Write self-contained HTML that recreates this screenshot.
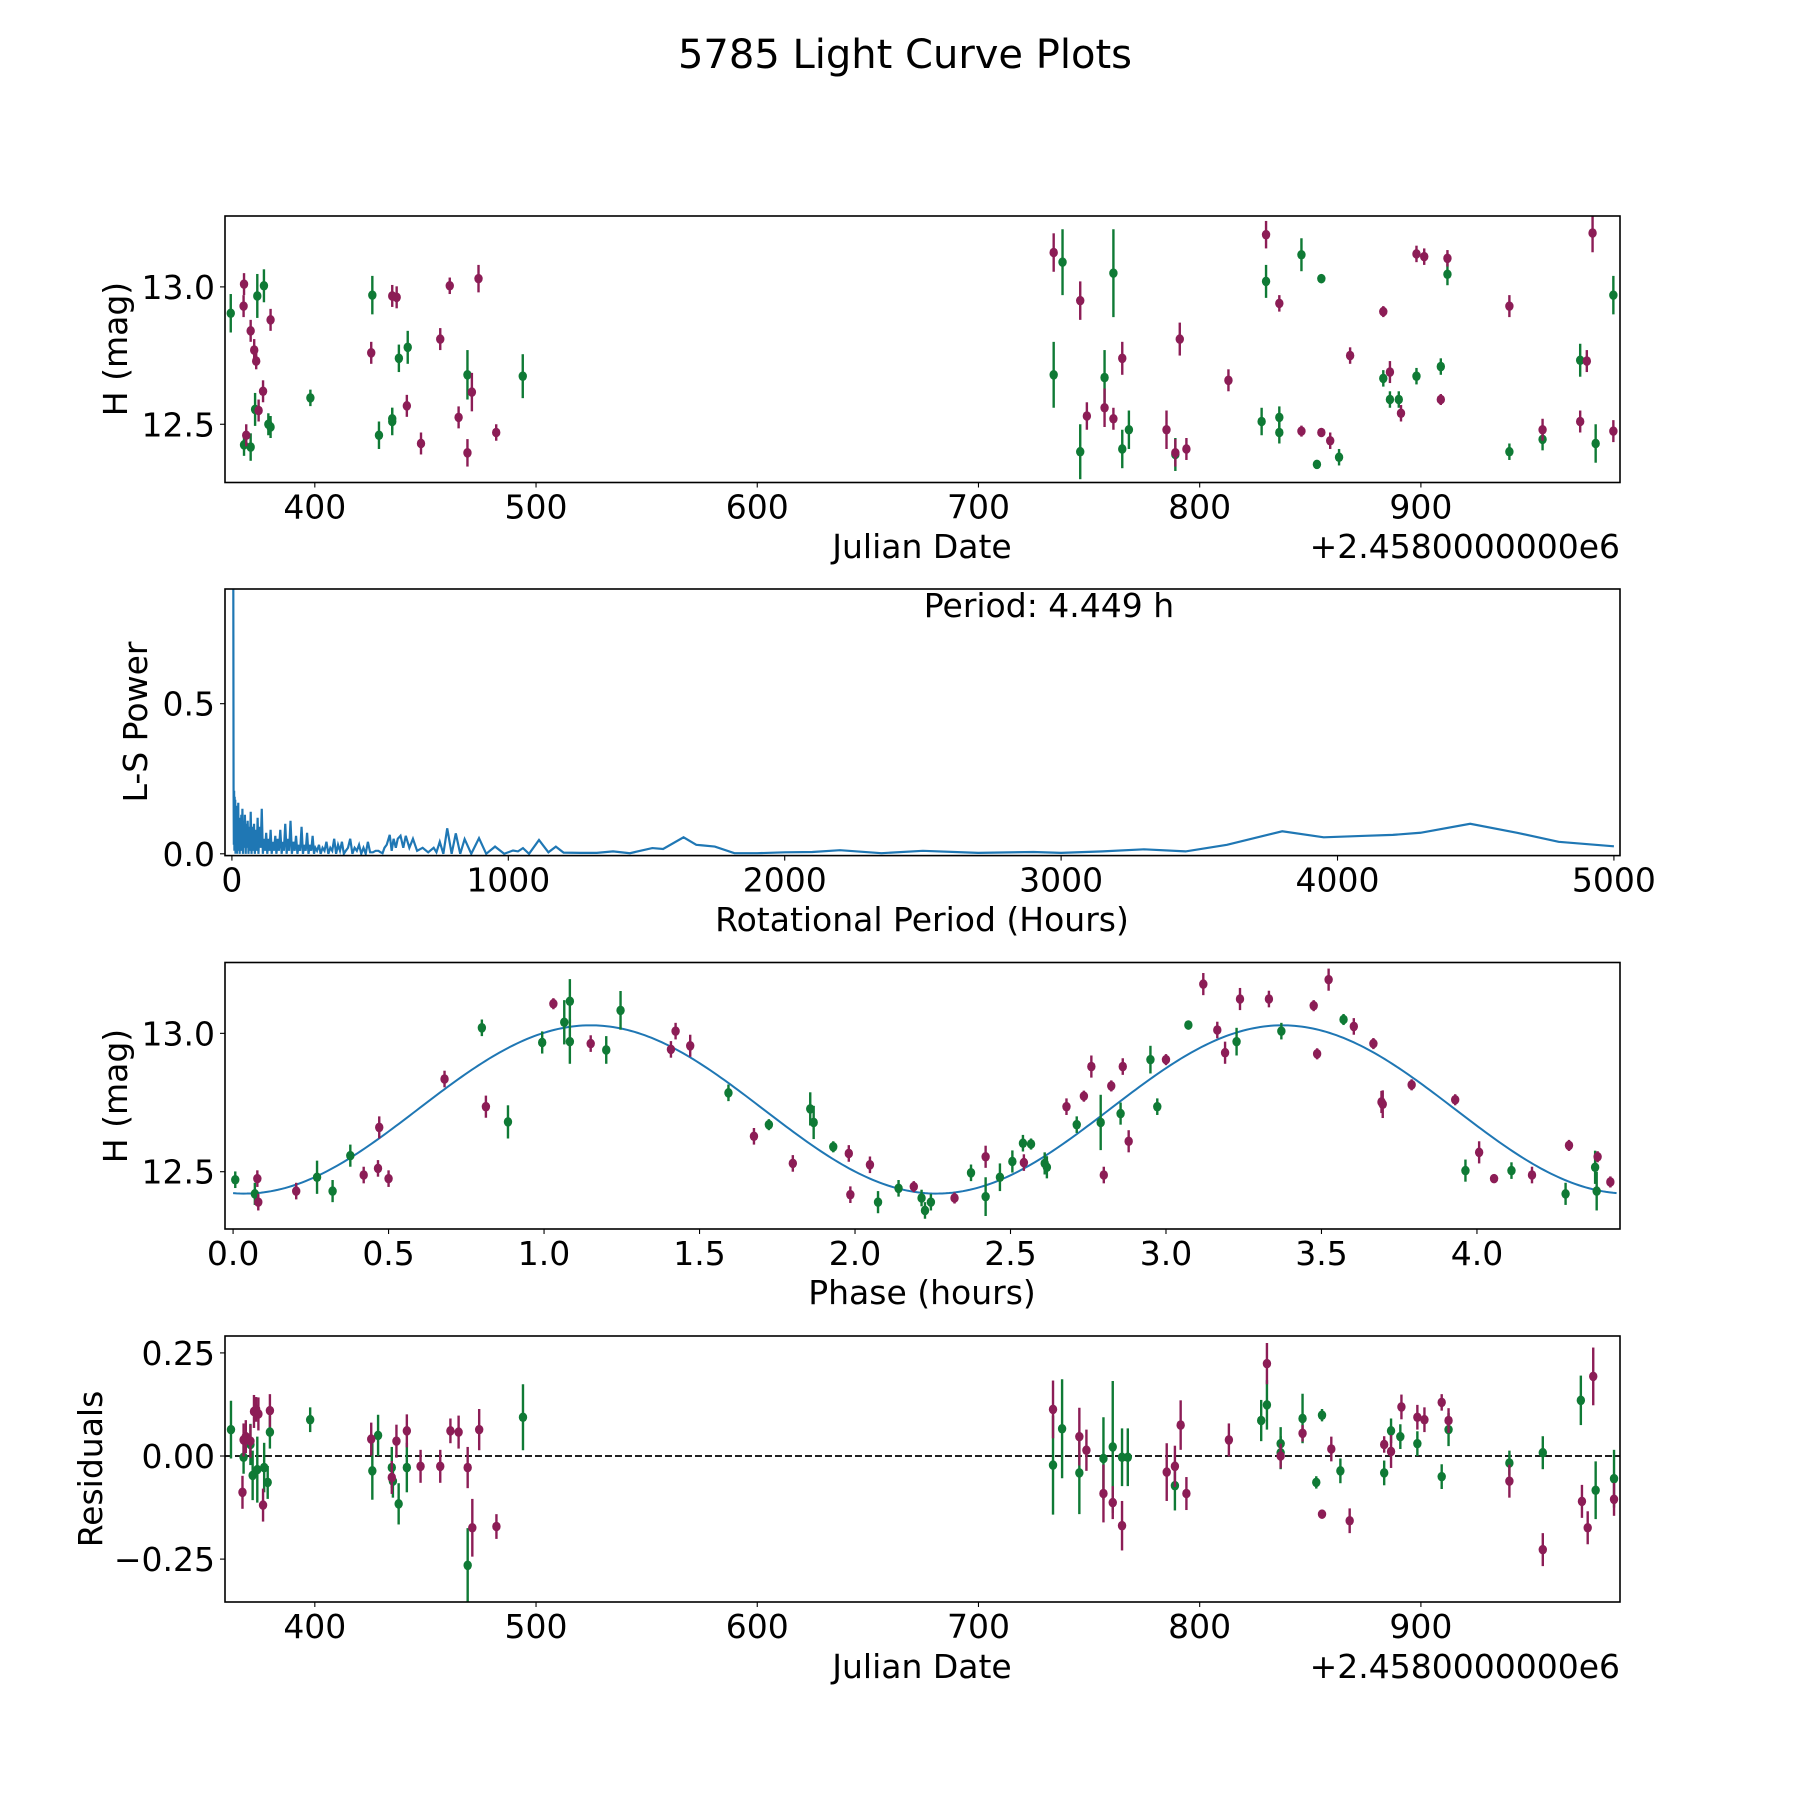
<!DOCTYPE html>
<html><head><meta charset="utf-8"><style>
html,body{margin:0;padding:0;background:#fff;}
svg{display:block;font-family:"DejaVu Sans","Liberation Sans",sans-serif;}
</style></head>
<body>
<svg id="fig" width="1800" height="1800" viewBox="0 0 1800 1800" xmlns="http://www.w3.org/2000/svg">
<rect width="1800" height="1800" fill="#fff"/>
<text x="905" y="68" font-size="40" text-anchor="middle">5785 Light Curve Plots</text>
</svg>
<script>
// ---- Panel 1: light curve data ----
const lcGreenJD = [362,368,371,373,374,377,379,380,398,426,429,435,435,438,442,469,494,734,738,746,757,761,765,768,789,828,830,836,836,846,853,855,863,883,886,890,898,909,912,940,955,972,979,987];
const lcGreenMag = [12.904,12.425,12.417,12.554,12.967,13.004,12.50,12.49,12.596,12.97,12.46,12.51,12.52,12.74,12.78,12.68,12.675,12.68,13.09,12.40,12.67,13.05,12.41,12.48,12.39,12.51,13.02,12.525,12.47,13.117,12.354,13.03,12.38,12.667,12.59,12.59,12.675,12.71,13.046,12.40,12.445,12.733,12.43,12.97];
const lcGreenErr = [0.07,0.04,0.05,0.06,0.08,0.06,0.04,0.04,0.03,0.07,0.05,0.05,0.04,0.05,0.06,0.09,0.08,0.12,0.12,0.10,0.10,0.16,0.07,0.07,0.06,0.05,0.06,0.04,0.04,0.06,0.015,0.015,0.03,0.03,0.03,0.03,0.03,0.03,0.04,0.03,0.04,0.06,0.07,0.07];
const lcMaroonJD = [368,367.8,369,371,372.6,373.5,374.6,376.6,380,425.5,435,437,441.6,448,456.7,461,465,469,471,474,482,734,746,749,757,761,765,785,789,791,794,813,830,836,846,855,859,868,883,886,891,898,901.5,909,912,940,955,972,975,977.6,987];
const lcMaroonMag = [13.01,12.93,12.46,12.84,12.77,12.73,12.55,12.62,12.88,12.76,12.967,12.962,12.567,12.43,12.81,13.004,12.525,12.396,12.617,13.03,12.47,13.125,12.95,12.53,12.56,12.52,12.74,12.48,12.396,12.81,12.41,12.66,13.19,12.94,12.475,12.47,12.44,12.75,12.91,12.69,12.54,13.12,13.11,12.59,13.104,12.93,12.48,12.51,12.73,13.196,12.475];
const lcMaroonErr = [0.04,0.04,0.04,0.04,0.04,0.03,0.04,0.04,0.04,0.04,0.04,0.04,0.04,0.04,0.04,0.03,0.04,0.05,0.07,0.05,0.03,0.07,0.07,0.05,0.07,0.04,0.06,0.07,0.05,0.06,0.04,0.04,0.05,0.03,0.02,0.01,0.03,0.03,0.02,0.04,0.03,0.03,0.03,0.02,0.03,0.04,0.04,0.04,0.04,0.07,0.04];

// ---- Panel 2: Lomb-Scargle periodogram ----
const lsPeriod = [4.4,5,6,7,8,9,10,11,12,13,14,15,17,18,20,21,23,24,26,28,30,32,34,36,38,40,42,45,47,50,52,55,57,60,62,65,68,71,74,77,80,83,86,90,93,96,100,104,108,112,116,120,124,128,132,136,140,144,148,152,157,161,166,170,175,180,184,188,193,198,202,207,212,217,222,227,232,237,242,247,252,257,262,267,272,277,282,287,292,297,302,308,315,321,328,335,342,349,356,363,370,377,384,391,398,405,412,420,428,436,444,452,460,468,476,484,492,500,510,520,530,538,545,552,560,571,578,585,593,600,610,620,629,642,655,670,690,710,730,740,752,765,779,795,810,826,842,866,894,920,952,985,1017,1035,1053,1075,1111,1145,1172,1200,1260,1320,1379,1440,1521,1560,1634,1680,1702,1747,1818,1900,2000,2100,2200,2350,2500,2700,2900,3000,3150,3300,3450,3600,3800,3950,4100,4200,4300,4480,4650,4800,5000];
const lsPower = [1.0,0.95,0.22,0.03,0.21,0.01,0.19,0.02,0.18,0.0,0.16,0.02,0.16,0.0,0.12,0.01,0.17,0.02,0.11,0.0,0.12,0.03,0.13,0.01,0.15,0.0,0.11,0.02,0.13,0.0,0.10,0.02,0.11,0.0,0.09,0.01,0.14,0.0,0.09,0.01,0.10,0.0,0.08,0.01,0.12,0.0,0.09,0.02,0.15,0.0,0.05,0.01,0.07,0.0,0.05,0.01,0.08,0.0,0.04,0.01,0.06,0.0,0.05,0.01,0.08,0.0,0.04,0.01,0.10,0.0,0.05,0.01,0.11,0.0,0.04,0.01,0.06,0.0,0.03,0.01,0.09,0.0,0.03,0.01,0.07,0.0,0.03,0.01,0.06,0.0,0.02,0.01,0.03,0.0,0.02,0.01,0.04,0.0,0.02,0.01,0.05,0.0,0.03,0.01,0.04,0.0,0.01,0.02,0.05,0.0,0.02,0.01,0.03,0.0,0.02,0.0,0.04,0.005,0.005,0.01,0.01,0.005,0.002,0.02,0.03,0.063,0.01,0.05,0.02,0.05,0.06,0.02,0.06,0.02,0.05,0.01,0.02,0.005,0.02,0.005,0.04,0.0,0.085,0.0,0.068,0.0,0.049,0.0,0.052,0.0,0.024,0.0,0.011,0.008,0.019,0.0,0.046,0.005,0.024,0.004,0.003,0.003,0.008,0.002,0.019,0.016,0.055,0.03,0.028,0.024,0.002,0.002,0.005,0.006,0.012,0.002,0.01,0.003,0.006,0.003,0.008,0.015,0.008,0.03,0.075,0.055,0.06,0.063,0.07,0.10,0.07,0.04,0.025];
const lsXTicks = [0,1000,2000,3000,4000,5000];
const lsYTicks = [0.0,0.5];

// ---- Panel 3: phased light curve ----
const phGreenPhase = [0.007,0.07,0.27,0.32,0.377,0.80,0.884,0.994,1.065,1.083,1.083,1.20,1.246,1.593,1.723,1.856,1.867,1.93,2.074,2.14,2.214,2.225,2.244,2.373,2.42,2.466,2.506,2.54,2.566,2.61,2.617,2.713,2.79,2.854,2.95,2.972,3.072,3.227,3.371,3.571,3.963,4.111,4.285,4.38,4.385];
const phGreenMag = [12.471,12.42,12.48,12.43,12.558,13.02,12.68,12.967,13.04,13.116,12.97,12.94,13.083,12.785,12.67,12.727,12.678,12.59,12.39,12.44,12.405,12.36,12.39,12.496,12.41,12.48,12.537,12.603,12.60,12.53,12.516,12.67,12.678,12.71,12.905,12.735,13.03,12.97,13.008,13.05,12.504,12.504,12.42,12.516,12.43];
const phGreenErr = [0.03,0.04,0.06,0.04,0.04,0.03,0.06,0.04,0.08,0.08,0.08,0.05,0.07,0.03,0.02,0.06,0.06,0.02,0.04,0.03,0.03,0.03,0.03,0.03,0.07,0.05,0.04,0.03,0.02,0.04,0.04,0.03,0.1,0.04,0.05,0.03,0.01,0.05,0.03,0.02,0.04,0.03,0.04,0.06,0.07];
const phMaroonPhase = [0.078,0.081,0.203,0.42,0.466,0.47,0.50,0.68,0.813,1.03,1.15,1.408,1.423,1.47,1.675,1.80,1.98,1.985,2.048,2.189,2.32,2.42,2.543,2.68,2.736,2.76,2.80,2.824,2.861,2.88,3.0,3.12,3.165,3.19,3.238,3.331,3.475,3.486,3.523,3.604,3.667,3.693,3.697,3.79,3.93,4.007,4.055,4.177,4.296,4.388,4.429];
const phMaroonMag = [12.475,12.39,12.43,12.488,12.512,12.66,12.475,12.835,12.735,13.107,12.963,12.942,13.008,12.955,12.628,12.53,12.566,12.417,12.525,12.446,12.405,12.554,12.533,12.735,12.773,12.88,12.488,12.81,12.88,12.61,12.905,13.178,13.012,12.93,13.124,13.124,13.10,12.926,13.194,13.025,12.963,12.752,12.744,12.814,12.76,12.57,12.475,12.488,12.595,12.554,12.463];
const phMaroonErr = [0.03,0.03,0.03,0.03,0.03,0.04,0.03,0.03,0.04,0.02,0.03,0.03,0.03,0.04,0.03,0.03,0.03,0.03,0.03,0.02,0.02,0.04,0.03,0.03,0.02,0.04,0.03,0.02,0.03,0.04,0.02,0.04,0.03,0.04,0.04,0.03,0.02,0.02,0.04,0.03,0.02,0.04,0.05,0.02,0.02,0.04,0.01,0.03,0.02,0.02,0.02];
const fitMean = [12.725];
const fitAmp = [0.304];
const fitPeriod = [2.2245];
const fitPeakPhase = [1.15];
const phXTicks = [0.0,0.5,1.0,1.5,2.0,2.5,3.0,3.5,4.0];

// ---- Panel 4: residuals ----
const resGreenJD = [362.1,367.8,370.9,371.9,374,377.1,378.7,379.7,397.9,426,428.6,434.8,435.3,437.9,441.6,469.1,494.1,733.7,737.8,745.6,756.5,760.7,764.9,767.5,788.8,827.8,830.4,836.6,836.6,846.5,852.7,855.3,863.6,883.4,886.5,890.7,898.4,909.4,912.5,940,955.1,972.3,979,987.3];
const resGreenVal = [0.064,-0.003,0.028,-0.047,-0.033,-0.028,-0.064,0.058,0.088,-0.036,0.05,-0.028,-0.061,-0.116,-0.028,-0.265,0.094,-0.022,0.066,-0.041,-0.006,0.022,-0.003,-0.003,-0.072,0.086,0.124,0.03,0.008,0.091,-0.064,0.099,-0.036,-0.041,0.061,0.047,0.03,-0.05,0.064,-0.017,0.008,0.135,-0.083,-0.055];
const resMaroonJD = [367.3,367.8,368.8,370.9,372.5,373.5,374.5,376.6,379.7,425.5,434.8,436.9,441.6,447.8,456.7,461.3,465,469.1,471.2,474.3,482.1,733.7,745.6,748.8,756.5,760.7,764.9,785.1,788.8,791.4,794,813.2,830.4,836.6,846.5,855.3,859.5,867.8,883.4,886.5,891.2,898.4,901.6,909.4,912.5,940,955.1,972.8,975.4,977.9,987.3];
const resMaroonVal = [-0.088,0.039,0.047,0.036,0.108,0.113,0.102,-0.119,0.11,0.041,-0.052,0.036,0.061,-0.025,-0.025,0.061,0.058,-0.028,-0.174,0.064,-0.171,0.113,0.047,0.014,-0.091,-0.113,-0.169,-0.039,-0.025,0.075,-0.091,0.039,0.224,0,0.055,-0.141,0.017,-0.157,0.028,0.011,0.119,0.094,0.088,0.13,0.086,-0.061,-0.227,-0.11,-0.174,0.193,-0.105];
const jdTicks = [400,500,600,700,800,900];

const NS = 'http://www.w3.org/2000/svg';
const svg = document.getElementById('fig');
const GREEN = '#0f7a35', MAROON = '#8c1d56', BLUE = '#1f77b4';
const L = 225, R = 1620;
const FS = 33;

function mk(tag, attrs, parent) {
  const e = document.createElementNS(NS, tag);
  for (const k in attrs) e.setAttribute(k, attrs[k]);
  (parent || svg).appendChild(e);
  return e;
}
function makeAxes(name, top, bottom, xlim, ylim) {
  const g = mk('g', {});
  
  
  const ax = {
    g, top, bottom,
    x: v => L + (v - xlim[0]) / (xlim[1] - xlim[0]) * (R - L),
    y: v => bottom - (v - ylim[0]) / (ylim[1] - ylim[0]) * (bottom - top)
  };
  const cp = mk('clipPath', {id: name + '-clip'}, g);
  mk('rect', {x: L, y: top, width: R - L, height: bottom - top}, cp);
  ax.plot = mk('g', {'clip-path': 'url(#' + name + '-clip)'}, g);
  return ax;
}
function frame(ax) {
  const f = mk('rect', {x: L, y: ax.top, width: R - L, height: ax.bottom - ax.top, fill: 'none', stroke: '#000', 'stroke-width': 1.6}, ax.g);
  
  
}
function xTicks(ax, ticks, fmt) {
  ticks.forEach(t => {
    const px = ax.x(t);
    mk('line', {x1: px, x2: px, y1: ax.bottom, y2: ax.bottom + 5, stroke: '#000', 'stroke-width': 1.1}, ax.g);
    const tx = mk('text', {x: px, y: ax.bottom + 36, 'font-size': FS, 'text-anchor': 'middle'}, ax.g);
    
    
    tx.textContent = fmt(t);
  });
}
function yTicks(ax, ticks, fmt) {
  ticks.forEach(t => {
    const py = ax.y(t);
    mk('line', {x1: L - 5, x2: L, y1: py, y2: py, stroke: '#000', 'stroke-width': 1.1}, ax.g);
    const tx = mk('text', {x: L - 10, y: py + 12, 'font-size': FS, 'text-anchor': 'end'}, ax.g);
    
    
    tx.textContent = fmt(t);
  });
}
function label(ax, text, x, y, rot, name, anchor) {
  const t = mk('text', {x, y, 'font-size': FS, 'text-anchor': anchor || 'middle'}, ax.g);
  if (rot) t.setAttribute('transform', 'rotate(-90 ' + x + ' ' + y + ')');
  
  
  t.textContent = text;
}
function errPoints(ax, xs, ys, errs, color, name) {
  const g = mk('g', {}, ax.plot);
  
  
  xs.forEach((xv, i) => {
    const px = ax.x(xv), py = ax.y(ys[i]);
    if (errs) {
      const e = errs[i];
      const ln = mk('line', {x1: px, x2: px, y1: ax.y(ys[i] + e), y2: ax.y(ys[i] - e), stroke: color, 'stroke-width': 2.4}, g);
      
      
    }
    const c = mk('ellipse', {cx: px, cy: py, rx: 4.2, ry: 4.8, fill: color}, g);
    
    
  });
}
const fmt1 = t => t.toFixed(1);
const fmtJD = t => String(t);

// Panel 1
const a1 = makeAxes('light-curve-panel', 216, 482.5, [359.4, 990], [12.288, 13.258]);
errPoints(a1, lcGreenJD, lcGreenMag, lcGreenErr, GREEN, 'green-series');
errPoints(a1, lcMaroonJD, lcMaroonMag, lcMaroonErr, MAROON, 'maroon-series');
frame(a1);
xTicks(a1, jdTicks, fmtJD);
yTicks(a1, [12.5, 13.0], fmt1);
label(a1, 'H (mag)', 127, 349, true, 'y-axis-title');
label(a1, 'Julian Date', 922, 558, false, 'x-axis-title');
label(a1, '+2.4580000000e6', 1620, 558, false, 'x-offset-label', 'end');

// Panel 2
const a2 = makeAxes('periodogram-panel', 589, 855.6, [-25, 5022], [-0.006, 0.882]);
let d = '';
lsPeriod.forEach((p, i) => { d += (i ? 'L' : 'M') + a2.x(p).toFixed(2) + ' ' + a2.y(lsPower[i]).toFixed(2); });
const lsLine = mk('path', {d, fill: 'none', stroke: BLUE, 'stroke-width': 2.2}, a2.plot);


frame(a2);
xTicks(a2, lsXTicks, fmtJD);
yTicks(a2, lsYTicks, fmt1);
label(a2, 'L-S Power', 147, 722, true, 'y-axis-title');
label(a2, 'Rotational Period (Hours)', 922, 931, false, 'x-axis-title');
label(a2, 'Period: 4.449 h', 1049, 617, false, 'period-annotation');

// Panel 3
const a3 = makeAxes('phase-panel', 962.5, 1229, [-0.026, 4.46], [12.293, 13.256]);
let fd = '';
for (let i = 0; i <= 400; i++) {
  const ph = 0 + i * 4.449 / 400;
  const v = fitMean[0] + fitAmp[0] * Math.cos(2 * Math.PI * (ph - fitPeakPhase[0]) / fitPeriod[0]);
  fd += (i ? 'L' : 'M') + a3.x(ph).toFixed(2) + ' ' + a3.y(v).toFixed(2);
}
const fit = mk('path', {d: fd, fill: 'none', stroke: BLUE, 'stroke-width': 2}, a3.plot);


errPoints(a3, phGreenPhase, phGreenMag, phGreenErr, GREEN, 'green-series');
errPoints(a3, phMaroonPhase, phMaroonMag, phMaroonErr, MAROON, 'maroon-series');
frame(a3);
xTicks(a3, phXTicks, fmt1);
yTicks(a3, [12.5, 13.0], fmt1);
label(a3, 'H (mag)', 127, 1096, true, 'y-axis-title');
label(a3, 'Phase (hours)', 922, 1304, false, 'x-axis-title');

// Panel 4
const a4 = makeAxes('residuals-panel', 1336, 1602, [359.4, 990], [-0.354, 0.291]);
const zl = mk('line', {x1: L, x2: R, y1: a4.y(0), y2: a4.y(0), stroke: '#000', 'stroke-width': 1.8, 'stroke-dasharray': '7,3'}, a4.plot);


errPoints(a4, resGreenJD, resGreenVal, lcGreenErr, GREEN, 'green-residuals');
errPoints(a4, resMaroonJD, resMaroonVal, lcMaroonErr, MAROON, 'maroon-residuals');
frame(a4);
xTicks(a4, jdTicks, fmtJD);
yTicks(a4, [-0.25, 0, 0.25], t => (t < 0 ? '\u2212' : '') + Math.abs(t).toFixed(2));
label(a4, 'Residuals', 102, 1469, true, 'y-axis-title');
label(a4, 'Julian Date', 922, 1678, false, 'x-axis-title');
label(a4, '+2.4580000000e6', 1620, 1678, false, 'x-offset-label', 'end');
</script>
</body></html>
